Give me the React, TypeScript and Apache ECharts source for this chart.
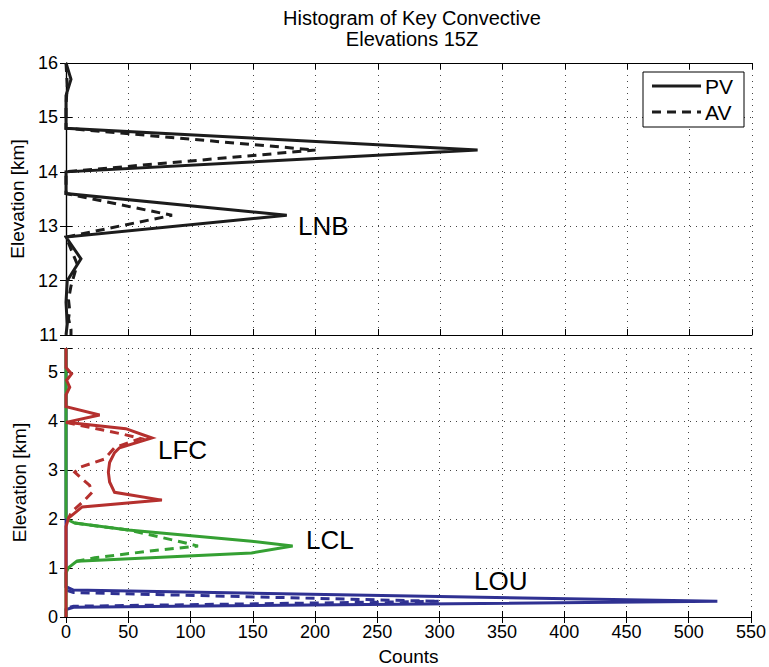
import React, { useEffect, useRef } from "react";
import * as echarts from "echarts";

// ---- Top panel (LNB), elevations in km and counts ----
const PV_TOP_ELEV = [16.0, 15.7, 15.4, 15.0, 14.8, 14.4, 14.0, 13.6, 13.2, 12.8, 12.4, 12.0, 11.6, 11.2, 11.0];
const PV_TOP_COUNT = [0, 4, 0, 0, 0, 330, 0, 0, 177, 0, 12, 1, 0, 1, 0];
const AV_TOP_ELEV = [16.0, 15.6, 15.2, 14.8, 14.4, 14.0, 13.6, 13.2, 12.8, 12.3, 11.9, 11.65, 11.45, 11.3, 11.1, 11.0];
const AV_TOP_COUNT = [0, 1, 0, 0, 200, 0, 0, 85, 0, 9, 4, 2, 3, 2, 4, 4];

// ---- Bottom panel: LFC (red) ----
const PV_LFC_ELEV = [5.5, 5.1, 4.97, 4.84, 4.7, 4.54, 4.3, 4.13, 3.98, 3.85, 3.66, 3.46, 3.36, 3.16, 2.96, 2.76, 2.55, 2.39, 2.25, 2.02, 1.85, 0];
const PV_LFC_COUNT = [0, 0, 4.5, 0.5, 3, 0, 0, 27, 0, 48, 69, 43, 39, 35, 34, 35, 39, 77, 13, 2, 0, 0];
const AV_LFC_ELEV = [3.98, 3.73, 3.65, 3.56, 3.46, 3.23, 3.06, 2.96, 2.69, 2.55, 2.39, 2.15, 2.02];
const AV_LFC_COUNT = [0, 47, 60, 50, 39, 31, 11, 7, 19, 21, 15, 4.5, 2];

// ---- Bottom panel: LCL (green) ----
const PV_LCL_ELEV = [5.5, 2.05, 1.98, 1.92, 1.78, 1.55, 1.45, 1.31, 1.14, 1.01, 0.9, 0];
const PV_LCL_COUNT = [0, 0, 2, 7, 50, 149, 182, 149, 8.6, 2, 0, 0];
const AV_LCL_ELEV = [1.92, 1.78, 1.55, 1.45, 1.36, 1.21, 1.14];
const AV_LCL_COUNT = [7, 50, 90, 106, 71, 23, 8.6];

// ---- Bottom panel: LOU (blue) ----
const PV_LOU_ELEV = [5.5, 0.62, 0.55, 0.32, 0.2, 0.15, 0];
const PV_LOU_COUNT = [0, 0, 6, 523, 6, 0, 0];
const AV_LOU_ELEV = [0.55, 0.5, 0.32, 0.22, 0.18];
const AV_LOU_COUNT = [0, 6, 300, 6, 0];

// ---- Axis ticks ----
const X_MIN = 0, X_MAX = 550, X_STEP = 50;
const TOP_Y_MIN = 11, TOP_Y_MAX = 16;
const BOT_Y_MIN = 0, BOT_Y_MAX = 5.5;

const TITLE_LINES = ["Histogram of Key Convective", "Elevations 15Z"];
const LEGEND_NAMES = ["PV", "AV"];

const FONT = "'Liberation Sans', Arial, Helvetica, sans-serif";
const BLACK = "#1c1c1c";
const RED = "#b5302e";
const GREEN = "#35a033";
const BLUE = "#2f3192";
const DASH = [9, 6];
const LW = 3;

const pairs = (c: number[], e: number[]) => c.map((v, i) => [v, e[i]]);

export default function App() {
  const ref = useRef<HTMLDivElement>(null);
  useEffect(() => {
    const chart = echarts.init(ref.current!, null, { renderer: "svg" });

    const gridL = 66, gridW = 686, gridH = 272;
    const grids = [
      { left: gridL, top: 63, width: gridW, height: gridH, show: false },
      { left: gridL, top: 348, width: gridW, height: gridH, show: false },
    ];

    const dotted = { show: true, lineStyle: { color: "#444", type: [1, 5], width: 1 } };
    const axisLine = { show: true, lineStyle: { color: "#000", width: 1.2 } };
    const inTick = { show: true, inside: true, length: 6, lineStyle: { color: "#000", width: 1 } };
    const labelStyle = { color: "#000", fontFamily: FONT, fontSize: 18 };

    const mkX = (gridIndex: number, position: string, labels: boolean, split: boolean, extra: any = {}) => ({
      type: "value", gridIndex, position, min: X_MIN, max: X_MAX, interval: X_STEP,
      axisLine, axisTick: inTick, splitLine: split ? dotted : { show: false },
      axisLabel: labels ? { ...labelStyle, margin: 6 } : { show: false },
      ...extra,
    });
    const mkY = (gridIndex: number, position: string, min: number, max: number, labels: boolean, split: boolean, extra: any = {}) => ({
      type: "value", gridIndex, position, min, max, interval: 1,
      axisLine, axisTick: inTick, splitLine: split ? dotted : { show: false },
      axisLabel: labels
        ? { ...labelStyle, margin: 8, formatter: (v: number) => (Number.isInteger(v) ? String(v) : "") }
        : { show: false },
      ...extra,
    });

    const yName = {
      name: "Elevation [km]", nameLocation: "middle", nameGap: 37,
      nameTextStyle: { color: "#000", fontFamily: FONT, fontSize: 19 },
    };

    const line = (name: string, color: string, dashed: boolean, xi: number, yi: number, data: number[][], z = 2) => ({
      type: "line", name, xAxisIndex: xi, yAxisIndex: yi, data,
      showSymbol: false, symbol: "none", z,
      lineStyle: { color, width: LW, type: dashed ? DASH : "solid", join: "miter" },
      emphasis: { disabled: true },
    });

    const annot = (text: string, x: number, y: number) => ({
      type: "text", x, y, z: 50,
      style: { text, fill: "#000", font: `26px ${FONT}`, textVerticalAlign: "middle" },
    });

    chart.setOption({
      animation: false,
      grid: grids,
      xAxis: [
        mkX(0, "bottom", false, true),
        mkX(0, "top", false, false),
        mkX(1, "bottom", true, true, {
          name: "Counts", nameLocation: "middle", nameGap: 30,
          nameTextStyle: { color: "#000", fontFamily: FONT, fontSize: 19 },
        }),
        mkX(1, "top", false, false),
      ],
      yAxis: [
        mkY(0, "left", TOP_Y_MIN, TOP_Y_MAX, true, true, yName),
        mkY(0, "right", TOP_Y_MIN, TOP_Y_MAX, false, false),
        mkY(1, "left", BOT_Y_MIN, BOT_Y_MAX, true, true, yName),
        mkY(1, "right", BOT_Y_MIN, BOT_Y_MAX, false, false),
      ],
      series: [
        line("PV", BLACK, false, 0, 0, pairs(PV_TOP_COUNT, PV_TOP_ELEV), 3),
        line("AV", BLACK, true, 0, 0, pairs(AV_TOP_COUNT, AV_TOP_ELEV), 2),
        line("PV LOU", BLUE, false, 2, 2, pairs(PV_LOU_COUNT, PV_LOU_ELEV), 2),
        line("AV LOU", BLUE, true, 2, 2, pairs(AV_LOU_COUNT, AV_LOU_ELEV), 2),
        line("PV LCL", GREEN, false, 2, 2, pairs(PV_LCL_COUNT, PV_LCL_ELEV), 3),
        line("AV LCL", GREEN, true, 2, 2, pairs(AV_LCL_COUNT, AV_LCL_ELEV), 3),
        line("PV LFC", RED, false, 2, 2, pairs(PV_LFC_COUNT, PV_LFC_ELEV), 4),
        line("AV LFC", RED, true, 2, 2, pairs(AV_LFC_COUNT, AV_LFC_ELEV), 4),
      ],
      graphic: [
        {
          type: "text", x: 412, y: 7, z: 50,
          style: {
            text: TITLE_LINES.join("\n"), fill: "#000", font: `20px ${FONT}`,
            textAlign: "center", lineHeight: 21,
          },
        },
        annot("LNB", 298, 226),
        annot("LFC", 158, 450),
        annot("LCL", 306, 540),
        annot("LOU", 474, 581),
        {
          type: "group", z: 100,
          children: [
            { type: "rect", z: 100, shape: { x: 643, y: 72, width: 101, height: 55 }, style: { fill: "#fff", stroke: "#000", lineWidth: 1 } },
            { type: "line", z: 101, shape: { x1: 652, y1: 86, x2: 701, y2: 86 }, style: { stroke: BLACK, lineWidth: LW } },
            { type: "line", z: 101, shape: { x1: 652, y1: 112, x2: 701, y2: 112 }, style: { stroke: BLACK, lineWidth: LW, lineDash: DASH } },
            { type: "text", z: 101, x: 705, y: 86, style: { text: LEGEND_NAMES[0], fill: "#000", font: `21px ${FONT}`, textVerticalAlign: "middle" } },
            { type: "text", z: 101, x: 705, y: 112, style: { text: LEGEND_NAMES[1], fill: "#000", font: `21px ${FONT}`, textVerticalAlign: "middle" } },
          ],
        },
      ],
    });
    return () => chart.dispose();
  }, []);
  return (
    <div
      ref={ref}
      style={{ position: "fixed", left: 0, top: 0, width: 769, height: 667, background: "#fff" }}
    />
  );
}
